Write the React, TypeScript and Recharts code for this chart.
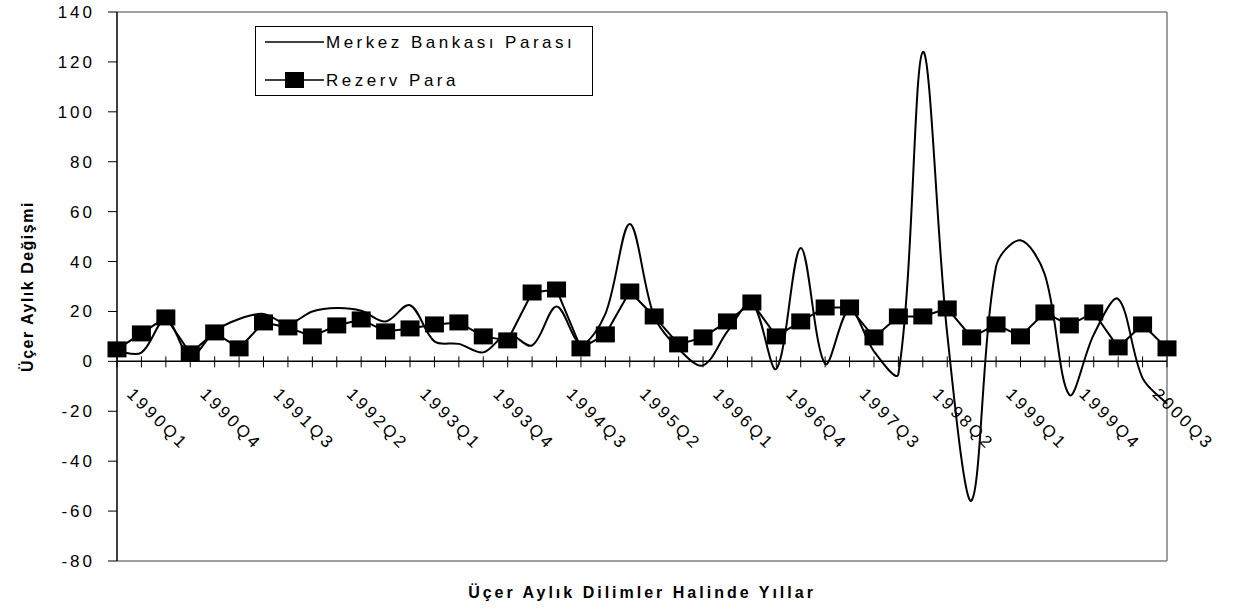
import React from "react";
import { Line, LineChart, ReferenceLine, XAxis, YAxis } from "recharts";

const quarters = [
  "1990Q1", "1990Q2", "1990Q3", "1990Q4", "1991Q1", "1991Q2", "1991Q3", "1991Q4",
  "1992Q1", "1992Q2", "1992Q3", "1992Q4", "1993Q1", "1993Q2", "1993Q3", "1993Q4",
  "1994Q1", "1994Q2", "1994Q3", "1994Q4", "1995Q1", "1995Q2", "1995Q3", "1995Q4",
  "1996Q1", "1996Q2", "1996Q3", "1996Q4", "1997Q1", "1997Q2", "1997Q3", "1997Q4",
  "1998Q1", "1998Q2", "1998Q3", "1998Q4", "1999Q1", "1999Q2", "1999Q3", "1999Q4",
  "2000Q1", "2000Q2", "2000Q3", "2000Q4",
];

const merkezBankasi = [
  4, 3.5, 17, 2, 12, 17, 19, 15, 20, 21.4, 20.3, 16, 22.5, 8, 7, 3.6,
  11, 6.4, 22, 7, 19, 55, 18, 5, -1.6, 12, 23.5, -3, 45.4, -1, 21, 4,
  -5, 124, 11, -55.7, 38, 48.5, 34.7, -13.4, 10.7, 25, -6.7, -17,
];

const rezervPara = [
  4.8, 11.2, 17.6, 3.2, 11.6, 5.2, 15.6, 13.6, 10, 14.4, 16.8, 12, 13.2, 14.8, 15.6, 10,
  8.4, 27.6, 28.8, 5.2, 10.8, 28, 18, 6.8, 9.6, 16, 23.6, 10, 16, 21.6, 21.6, 9.6,
  18, 18, 21.2, 9.6, 14.8, 10, 19.6, 14.4, 19.6, 5.6, 14.8, 5.2,
];

const yTicks = [-80, -60, -40, -20, 0, 20, 40, 60, 80, 100, 120, 140];

const data = quarters.map((q, i) => ({
  quarter: q,
  merkez: merkezBankasi[i],
  rezerv: rezervPara[i],
}));

const W = 1233;
const H = 611;
const TOP = 12;
const PLOT_H = 549;
const Y_MIN = -80;
const Y_MAX = 140;
const FONT = "'Liberation Sans', Arial, sans-serif";

// Excel-like smoothing: bezier handles scaled by neighbouring segment lengths
function excelSmooth(context: any) {
  let pts: [number, number][] = [];
  const dist = (a: [number, number], b: [number, number]) => Math.hypot(b[0] - a[0], b[1] - a[1]);
  return {
    areaStart() {},
    areaEnd() {},
    lineStart() {
      pts = [];
    },
    lineEnd() {
      if (pts.length === 0) return;
      context.moveTo(pts[0][0], pts[0][1]);
      for (let i = 0; i < pts.length - 1; i++) {
        const p0 = pts[i - 1] ?? pts[i];
        const p1 = pts[i];
        const p2 = pts[i + 1];
        const p3 = pts[i + 2] ?? p2;
        const d01 = dist(p0, p1);
        const d12 = dist(p1, p2);
        const d23 = dist(p2, p3);
        const f1 = d01 + d12 > 0 ? d12 / (d01 + d12) / 3 : 0;
        const f2 = d12 + d23 > 0 ? d12 / (d12 + d23) / 3 : 0;
        context.bezierCurveTo(
          p1[0] + (p2[0] - p0[0]) * f1,
          p1[1] + (p2[1] - p0[1]) * f1,
          p2[0] - (p3[0] - p1[0]) * f2,
          p2[1] - (p3[1] - p1[1]) * f2,
          p2[0],
          p2[1]
        );
      }
    },
    point(x: number, y: number) {
      pts.push([+x, +y]);
    },
  };
}

function SquareDot(props: any) {
  const { cx, cy } = props;
  if (cx == null || cy == null) return null;
  return <rect x={cx - 9.5} y={cy - 8} width={19} height={16} fill="#000" />;
}

function QuarterTick(props: any) {
  const { x, index, payload } = props;
  const zeroY = TOP + (PLOT_H * (Y_MAX - 0)) / (Y_MAX - Y_MIN);
  const tx = x + 9;
  const ty = zeroY + 34;
  return (
    <g>
      <line x1={x} x2={x} y1={zeroY - 5} y2={zeroY + 6} stroke="#000" strokeWidth={1} />
      {index % 3 === 0 && (
        <text
          x={tx}
          y={ty}
          transform={`rotate(45, ${tx}, ${ty})`}
          textAnchor="start"
          fontSize={17}
          letterSpacing={3}
          fontFamily={FONT}
          fill="#000"
        >
          {payload.value}
        </text>
      )}
    </g>
  );
}

function YTitle(props: any) {
  const { viewBox } = props;
  const cy = viewBox.y + viewBox.height / 2;
  return (
    <text
      x={27}
      y={cy}
      transform={`rotate(-90, 27, ${cy})`}
      textAnchor="middle"
      dominantBaseline="central"
      fontSize={16}
      fontWeight={700}
      letterSpacing={1.5}
      fontFamily={FONT}
      fill="#000"
    >
      Üçer Aylık Değişmi
    </text>
  );
}

function LegendBox() {
  return (
    <svg
      width={340}
      height={72}
      style={{ position: "absolute", left: 255, top: 26 }}
    >
      <rect x={0.5} y={0.5} width={337} height={69} fill="#fff" stroke="#000" strokeWidth={1} />
      <line x1={10} x2={69} y1={16} y2={16} stroke="#000" strokeWidth={1.5} />
      <text x={71} y={22} fontSize={17} letterSpacing={3.5} fontFamily={FONT} fill="#000">
        Merkez Bankası Parası
      </text>
      <line x1={10} x2={69} y1={54} y2={54} stroke="#000" strokeWidth={1.5} />
      <rect x={30} y={46} width={19} height={16} fill="#000" />
      <text x={71} y={60} fontSize={17} letterSpacing={3.5} fontFamily={FONT} fill="#000">
        Rezerv Para
      </text>
    </svg>
  );
}

export default function App() {
  return (
    <div style={{ position: "fixed", left: 0, top: 0, width: W, height: H, background: "#fff" }}>
      <LineChart
        width={W}
        height={H}
        data={data}
        margin={{ top: TOP, right: 66, bottom: 0, left: 0 }}
      >
        <XAxis
          dataKey="quarter"
          interval={0}
          axisLine={false}
          tickLine={false}
          height={50}
          tick={<QuarterTick />}
          label={{
            value: "Üçer Aylık Dilimler Halinde Yıllar",
            position: "insideBottom",
            offset: 13,
            fontSize: 16,
            fontWeight: 700,
            letterSpacing: 3,
            fontFamily: FONT,
            fill: "#000",
          }}
        />
        <YAxis
          type="number"
          domain={[Y_MIN, Y_MAX]}
          ticks={yTicks}
          interval={0}
          width={117}
          tickSize={9}
          tickMargin={13}
          axisLine={{ stroke: "#000", strokeWidth: 1.5 }}
          tickLine={{ stroke: "#000" }}
          tick={{ fontSize: 17, fill: "#000", fontFamily: FONT, letterSpacing: 3 }}
          label={<YTitle />}
        />
        <ReferenceLine y={Y_MAX} stroke="#808080" strokeWidth={1.5} />
        <ReferenceLine y={Y_MIN} stroke="#808080" strokeWidth={1.5} />
        <ReferenceLine x={quarters[quarters.length - 1]} stroke="#808080" strokeWidth={1.5} />
        <ReferenceLine y={0} stroke="#000" strokeWidth={1.5} />
        <Line
          type={excelSmooth as any}
          dataKey="merkez"
          name="Merkez Bankası Parası"
          stroke="#000"
          strokeWidth={2}
          dot={false}
          activeDot={false}
          isAnimationActive={false}
        />
        <Line
          type="linear"
          dataKey="rezerv"
          name="Rezerv Para"
          stroke="#000"
          strokeWidth={2}
          dot={<SquareDot />}
          activeDot={false}
          isAnimationActive={false}
        />
      </LineChart>
      <LegendBox />
    </div>
  );
}
